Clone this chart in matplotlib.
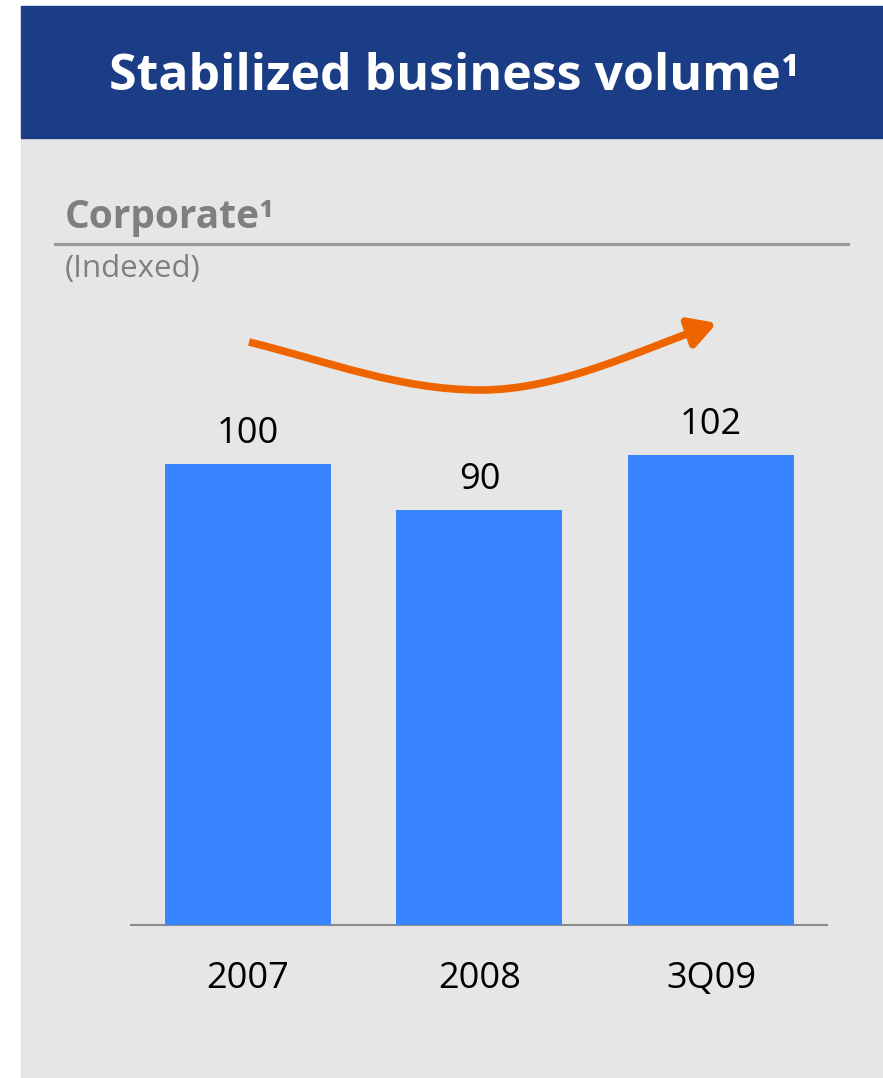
#!/usr/bin/env python3
"""Corporate business volume, indexed to 2007 = 100."""
import matplotlib; matplotlib.use("Agg")
import matplotlib.pyplot as plt
from matplotlib.patches import Rectangle, FancyArrowPatch
from matplotlib.path import Path

periods = ["2007", "2008", "3Q09"]
volume = [100, 90, 102]

W, H = 883, 1078
plt.rcParams["font.family"] = ["Open Sans", "DejaVu Sans"]

fig = plt.figure(figsize=(W / 100, H / 100), dpi=100)


def fx(x):
    return x / W


def fy(y):
    return 1 - y / H


# panel background + header band
fig.patches.append(Rectangle((fx(21), 0), 1 - fx(21), fy(138), transform=fig.transFigure,
                             color="#e6e6e6", zorder=-10))
fig.patches.append(Rectangle((fx(21), fy(138)), 1 - fx(21), fy(6) - fy(138),
                             transform=fig.transFigure, color="#1b3d85", zorder=-10))
fig.text(fx(454), fy(90), "Stabilized business volume¹", color="white", fontsize=36,
         fontweight="bold", ha="center", va="baseline")

fig.text(fx(65), fy(228), "Corporate¹", color="#7f7f7f", fontsize=28, fontweight="bold",
         va="baseline")
fig.add_artist(plt.Line2D([fx(55), fx(848)], [fy(244), fy(244)], color="#9a9a9a", lw=2.3,
                          transform=fig.transFigure))
fig.text(fx(65), fy(277), "(Indexed)", color="#7f7f7f", fontsize=22.5, va="baseline")

ax = fig.add_axes([fx(131), 153 / H, (827 - 131) / W, 625 / H])
ax.patch.set_alpha(0)
x = range(len(periods))
ax.bar(x, volume, width=0.717, color="#3885ff", zorder=3)
for xi, v in zip(x, volume):
    ax.annotate(f"{v}", (xi, v), xytext=(0, 15), textcoords="offset points",
                ha="center", va="baseline", fontsize=26, color="black")
ax.set_xlim(-0.505, 2.501)
ax.set_ylim(0, 625 / 4.61)
ax.set_xticks(list(x))
ax.set_xticklabels(periods, fontsize=26)
ax.tick_params(axis="x", length=0, pad=26)
ax.set_yticks([])
for s in ["top", "left", "right"]:
    ax.spines[s].set_visible(False)
ax.spines["bottom"].set_color("#8c8c8c")
ax.spines["bottom"].set_linewidth(1.5)

# trend arrow: dip then recovery
pts = [(249, 342), (330, 362), (400, 390), (481, 390),
       (560, 390), (640, 350), (717, 323)]
verts = [(fx(px), fy(py)) for px, py in pts]
codes = [Path.MOVETO] + [Path.CURVE4] * 6
arrow = FancyArrowPatch(path=Path(verts, codes), arrowstyle="-|>,head_length=0.8,head_width=0.45",
                        mutation_scale=20, lw=5.5, color="#ee6500", transform=fig.transFigure,
                        shrinkA=0, shrinkB=0, capstyle="butt")
fig.add_artist(arrow)

fig.savefig("out.png", dpi=100, facecolor="white")
